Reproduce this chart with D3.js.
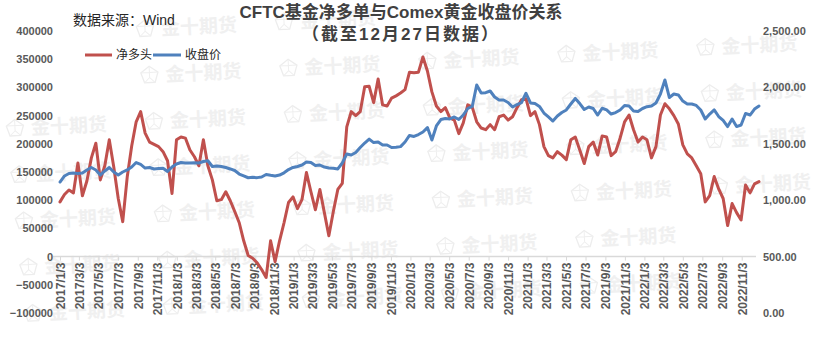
<!DOCTYPE html>
<html>
<head>
<meta charset="utf-8">
<script src="https://cdn.jsdelivr.net/npm/d3@7"></script>
<style>
  body { margin: 0; background: #fff; }
  svg { display: block; }
  text { font-family: "Liberation Sans", "Noto Sans CJK SC", sans-serif; }
</style>
</head>
<body>
<svg id="chart" width="816" height="343"></svg>
<script>
// CFTC managed-money net long (contracts), reported every other week
const firstReport = new Date(2017, 0, 3);
const reportStepDays = 14;

const netLong = [
  97000, 110000, 118000, 113000, 166000, 108000, 134000, 175000, 201000, 136000,
  161000, 207000, 159000, 103000, 62000, 141000, 196000, 239000, 257000, 219000,
  203000, 199000, 195000, 186000, 170000, 112000, 207000, 212000, 210000, 189000,
  177000, 161000, 207000, 161000, 136000, 99000, 101000, 115000, 99000, 80000,
  60000, 28000, 2000, -3000, -11000, -23000, -37000, 28000, -9000, 28000,
  60000, 96000, 106000, 85000, 101000, 149000, 115000, 83000, 119000, 78000,
  37000, 80000, 119000, 130000, 230000, 257000, 250000, 257000, 301000, 302000,
  273000, 315000, 269000, 267000, 281000, 285000, 290000, 296000, 327000, 326000,
  327000, 354000, 329000, 292000, 267000, 257000, 264000, 246000, 242000, 218000,
  237000, 269000, 265000, 239000, 228000, 225000, 234000, 225000, 248000, 251000,
  242000, 248000, 264000, 278000, 280000, 250000, 257000, 234000, 195000, 179000,
  175000, 186000, 180000, 172000, 207000, 212000, 189000, 165000, 195000, 203000,
  180000, 214000, 212000, 179000, 186000, 210000, 239000, 251000, 225000, 203000,
  212000, 207000, 175000, 195000, 251000, 271000, 262000, 250000, 235000, 198000,
  182000, 175000, 161000, 147000, 97000, 108000, 142000, 120000, 103000, 55000,
  94000, 78000, 65000, 127000, 113000, 129000, 133000
];

// Comex gold close (USD/oz) on the same report dates
const goldClose = [
  1161, 1215, 1237, 1241, 1237, 1241, 1268, 1290, 1268, 1223,
  1259, 1290, 1250, 1223, 1250, 1268, 1294, 1334, 1317, 1285,
  1290, 1277, 1281, 1283, 1254, 1294, 1321, 1334, 1330, 1330,
  1332, 1330, 1343, 1350, 1299, 1303, 1299, 1290, 1277, 1263,
  1232, 1215, 1199, 1203, 1200, 1206, 1228, 1221, 1215, 1223,
  1243, 1272, 1290, 1299, 1312, 1339, 1334, 1307, 1312, 1294,
  1285, 1283, 1277, 1330, 1410, 1401, 1423, 1467, 1507, 1542,
  1511, 1516, 1489, 1489, 1467, 1469, 1475, 1516, 1574, 1565,
  1582, 1605, 1644, 1534, 1658, 1715, 1724, 1720, 1738, 1715,
  1755, 1813, 1831, 2021, 1950, 1953, 1968, 1915, 1888, 1888,
  1866, 1826, 1848, 1866, 1948, 1862, 1857, 1831, 1773, 1738,
  1702, 1746, 1777, 1800, 1853, 1902, 1857, 1804, 1826, 1813,
  1755, 1815, 1800, 1764, 1777, 1800, 1840, 1835, 1791, 1786,
  1813, 1829, 1835, 1862, 1941, 2066, 1910, 1941, 1933, 1879,
  1853, 1853, 1840, 1800, 1720, 1764, 1800, 1742, 1707, 1653,
  1720, 1653, 1667, 1769, 1755, 1808, 1835
];

const dateTickLabels = [
  "2017/1/3", "2017/3/3", "2017/5/3", "2017/7/3", "2017/9/3", "2017/11/3",
  "2018/1/3", "2018/3/3", "2018/5/3", "2018/7/3", "2018/9/3", "2018/11/3",
  "2019/1/3", "2019/3/3", "2019/5/3", "2019/7/3", "2019/9/3", "2019/11/3",
  "2020/1/3", "2020/3/3", "2020/5/3", "2020/7/3", "2020/9/3", "2020/11/3",
  "2021/1/3", "2021/3/3", "2021/5/3", "2021/7/3", "2021/9/3", "2021/11/3",
  "2022/1/3", "2022/3/3", "2022/5/3", "2022/7/3", "2022/9/3", "2022/11/3"
];
const leftTicks = [-100000, -50000, 0, 50000, 100000, 150000, 200000, 250000, 300000, 350000, 400000];
const rightTicks = [0, 500, 1000, 1500, 2000, 2500];
const seriesNames = ["净多头", "收盘价"];

const titleLine1 = "CFTC基金净多单与Comex黄金收盘价关系";
const titleLine2 = "（截至12月27日数据）";
const sourceNote = "数据来源：Wind";
const watermarkText = "金十期货";

const RED = "#C0504D", BLUE = "#4F81BD";

const svg = d3.select("#chart");
const parseTick = d3.timeParse("%Y/%-m/%-d");
const reportDates = netLong.map((_, i) => d3.timeDay.offset(firstReport, i * reportStepDays));

const x = d3.scaleTime()
  .domain([reportDates[0], reportDates[reportDates.length - 1]])
  .range([60, 759]);
const yL = d3.scaleLinear().domain([-100000, 400000]).range([313, 31]);
const yR = d3.scaleLinear().domain([0, 2500]).range([313, 31]);

// background brand watermark, a gently tilted grid (only whole marks inside the canvas)
const wm = svg.append("g").attr("class", "watermark");
function pentagonIcon(g, cx, cy, r) {
  const pts = d3.range(5).map(k => {
    const a = -Math.PI / 2 + k * 2 * Math.PI / 5;
    return [cx + r * Math.cos(a), cy + r * Math.sin(a)];
  });
  g.append("polygon").attr("points", pts.map(p => p.join(",")).join(" "))
    .attr("fill", "none").attr("stroke", "#ededed").attr("stroke-width", 1.3);
  g.append("path")
    .attr("d", `M${pts[0]}L${cx},${cy + r * 0.25}L${pts[2]}M${cx},${cy + r * 0.25}L${pts[3]}M${pts[1]}L${pts[4]}`)
    .attr("fill", "none").attr("stroke", "#efefef").attr("stroke-width", 1);
}
for (let r = 0; r < 7; r++) {
  for (let c = 0; c < 7; c++) {
    const tx = 22 + 139 * c + 4.5 * r;
    const cy = 28 + 46.5 * r - 0.05 * (tx - 165);
    if (cy - 16 < 0 || tx + 80 > 816 || tx - 27 < 0 || cy + 12 > 343) continue;
    const g = wm.append("g").attr("transform", `rotate(-2.8 ${tx} ${cy})`);
    pentagonIcon(g, tx - 16, cy, 9);
    g.append("text").attr("x", tx).attr("y", cy).attr("dy", "0.36em")
      .attr("font-size", 19).attr("font-weight", "bold")
      .attr("fill", "#f0f0f0")
      .style("font-family", "'Noto Sans CJK SC', sans-serif")
      .text(watermarkText);
  }
}

// x axis: horizontal line at zero, rotated date labels
const zeroY = yL(0);
svg.append("line").attr("x1", 53).attr("x2", 756).attr("y1", zeroY).attr("y2", zeroY)
  .attr("stroke", "#d9d9d9").attr("stroke-width", 1.5);
const xAxis = svg.append("g").attr("transform", `translate(0,${zeroY})`)
  .call(d3.axisBottom(x)
    .tickValues(dateTickLabels.map(parseTick))
    .tickFormat((d, i) => dateTickLabels[i])
    .tickSize(4).tickSizeOuter(0));
xAxis.select(".domain").remove();
xAxis.selectAll(".tick line").attr("stroke", "#d9d9d9").attr("stroke-width", 1);
xAxis.selectAll(".tick text")
  .attr("transform", "rotate(-90)")
  .attr("text-anchor", "end")
  .attr("x", -6).attr("y", 0).attr("dy", "0.36em")
  .attr("font-size", 12).attr("font-weight", "bold").attr("fill", "#595959")
  .style("font-family", "'Liberation Sans', sans-serif");

// left axis (net long)
const gl = svg.append("g").attr("transform", "translate(53,0)")
  .call(d3.axisLeft(yL).tickValues(leftTicks).tickFormat(d3.format("d")).tickSize(0).tickPadding(0));
gl.select(".domain").remove();
gl.selectAll("text").attr("font-size", 11).attr("font-weight", "bold").attr("fill", "#595959")
  .style("font-family", "'Liberation Sans', sans-serif");

// right axis (gold price)
const gr = svg.append("g").attr("transform", "translate(763,0)")
  .call(d3.axisRight(yR).tickValues(rightTicks).tickFormat(d3.format(",.2f")).tickSize(0).tickPadding(0));
gr.select(".domain").remove();
gr.selectAll("text").attr("font-size", 11).attr("font-weight", "bold").attr("fill", "#595959")
  .style("font-family", "'Liberation Sans', sans-serif");

// series lines
const lineL = d3.line().x((d, i) => x(reportDates[i])).y(d => yL(d));
const lineR = d3.line().x((d, i) => x(reportDates[i])).y(d => yR(d));
svg.append("path").datum(netLong).attr("d", lineL)
  .attr("fill", "none").attr("stroke", RED).attr("stroke-width", 3)
  .attr("stroke-linejoin", "round").attr("stroke-linecap", "round");
svg.append("path").datum(goldClose).attr("d", lineR)
  .attr("fill", "none").attr("stroke", BLUE).attr("stroke-width", 3)
  .attr("stroke-linejoin", "round").attr("stroke-linecap", "round");

// legend
const legend = svg.append("g").attr("transform", "translate(0,55)");
[[85, 112, 116, RED, seriesNames[0]], [153, 181, 185, BLUE, seriesNames[1]]].forEach(([x1, x2, tx, col, name]) => {
  legend.append("line").attr("x1", x1).attr("x2", x2).attr("stroke", col).attr("stroke-width", 3);
  legend.append("text").attr("x", tx).attr("dy", "0.36em").attr("font-size", 12)
    .attr("fill", "#262626").style("font-family", "'Noto Sans CJK SC', sans-serif").text(name);
});

// titles and source note
svg.append("text").attr("x", 401).attr("y", 18).attr("text-anchor", "middle")
  .attr("font-size", 17).attr("font-weight", "bold").attr("fill", "#404040").text(titleLine1);
svg.append("text").attr("x", 401).attr("y", 40).attr("text-anchor", "middle")
  .attr("font-size", 17).attr("font-weight", "bold").attr("letter-spacing", 2)
  .attr("fill", "#404040").text(titleLine2);
svg.append("text").attr("x", 73).attr("y", 25).attr("font-size", 14)
  .attr("fill", "#262626").text(sourceNote);
</script>
</body>
</html>
